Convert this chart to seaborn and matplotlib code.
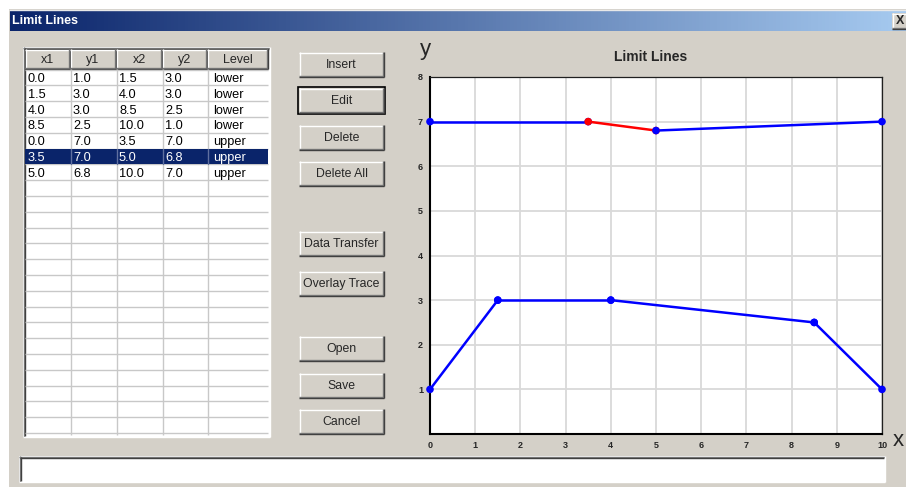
import numpy as np
import pandas as pd
import seaborn as sns
import matplotlib.pyplot as plt
from matplotlib.patches import Rectangle
from matplotlib.colors import LinearSegmentedColormap

# limit line segments, as listed in the table
x1 = [0.0, 1.5, 4.0, 8.5, 0.0, 3.5, 5.0]
y1 = [1.0, 3.0, 3.0, 2.5, 7.0, 7.0, 6.8]
x2 = [1.5, 4.0, 8.5, 10.0, 3.5, 5.0, 10.0]
y2 = [3.0, 3.0, 2.5, 1.0, 7.0, 6.8, 7.0]
level = ["lower", "lower", "lower", "lower", "upper", "upper", "upper"]
selected = 5

columns = ["x1", "y1", "x2", "y2", "Level"]
buttons = ["Insert", "Edit", "Delete", "Delete All", "Data Transfer",
           "Overlay Trace", "Open", "Save", "Cancel"]
xticks = list(range(0, 11))
yticks = list(range(1, 9))

W, H = 906, 487
GREY = "#d4d0c8"
NAVY = "#0a246a"
FONT = "Liberation Sans"

sns.set_style("white")
plt.rcParams["font.family"] = [FONT, "DejaVu Sans"]

fig = plt.figure(figsize=(W / 100, H / 100), dpi=100, facecolor="white")
bg = fig.add_axes([0, 0, 1, 1])
bg.set_axis_off()


def rect(x0, y0, x1_, y1_, **kw):
    bg.add_patch(Rectangle((x0, y0), x1_ - x0, y1_ - y0, **kw))


def hline(x0, x1_, y, c, lw=1):
    bg.plot([x0, x1_], [y, y], color=c, lw=lw, solid_capstyle="butt")


def vline(x, y0, y1_, c, lw=1):
    bg.plot([x, x], [y0, y1_], color=c, lw=lw, solid_capstyle="butt")


def raised(x0, y0, x1_, y1_, default=False):
    rect(x0, y0, x1_, y1_, facecolor=GREY, edgecolor="none")
    hline(x0, x1_, y0 + 0.5, "white")
    vline(x0 + 0.5, y0, y1_, "white")
    hline(x0, x1_, y1_ - 1.5, "#808080")
    vline(x1_ - 1.5, y0, y1_, "#808080")
    hline(x0, x1_, y1_ - 0.5, "#404040")
    vline(x1_ - 0.5, y0, y1_, "#404040")
    if default:
        rect(x0 - 1, y0 - 1, x1_ + 1, y1_ + 1, facecolor="none",
             edgecolor="black", lw=1.2)


def sunken(x0, y0, x1_, y1_, face="white"):
    rect(x0, y0, x1_, y1_, facecolor=face, edgecolor="none")
    hline(x0, x1_, y0 + 0.5, "#808080")
    vline(x0 + 0.5, y0, y1_, "#808080")
    hline(x0 + 1, x1_ - 1, y0 + 1.5, "#404040")
    vline(x0 + 1.5, y0 + 1, y1_ - 1, "#404040")
    hline(x0, x1_, y1_ - 0.5, "white")
    vline(x1_ - 0.5, y0, y1_, "white")


# dialog body and title bar
rect(9, 9, W, H, facecolor=GREY, edgecolor="none")
hline(9, W, 9.5, "#e8e8e8")
cmap = LinearSegmentedColormap.from_list("tb", [NAVY, "#a6caf0"])
bg.imshow(np.linspace(0, 1, 256)[None, :], cmap=cmap, aspect="auto",
          extent=(10, W, 31, 11), zorder=1)
bg.text(12, 21.5, "Limit Lines", color="white", fontsize=9, weight="bold",
        va="center", ha="left", zorder=3)
raised(892, 13, W + 4, 29)
bg.text(900, 21.5, "X", fontsize=9, weight="bold", ha="center", va="center",
        zorder=3)

# table
tx0, ty0, tx1, ty1 = 23, 47, 270, 437
col_x = [25, 70, 116, 162, 207, 268]
head_y0, head_y1 = 49, 69
row_h = 15.8
sunken(tx0, ty0, tx1, ty1)
for i, name in enumerate(columns):
    raised(col_x[i], head_y0, col_x[i + 1], head_y1)
    bg.text((col_x[i] + col_x[i + 1]) / 2, (head_y0 + head_y1) / 2 + 1,
            name, fontsize=9, ha="center", va="center", zorder=3)
n_rows = int((ty1 - 2 - head_y1) // row_h)
for r in range(n_rows + 1):
    y = head_y1 + r * row_h
    hline(col_x[0], col_x[-1], y + 0.5, "#c8c8c8")
for cx in col_x[1:-1]:
    vline(cx + 0.5, head_y1, ty1 - 2, "#c8c8c8")
rows = list(zip(x1, y1, x2, y2, level))
for r, row in enumerate(rows):
    ytop = head_y1 + r * row_h
    txtc = "black"
    if r == selected:
        rect(col_x[0], ytop + 1, col_x[-1], ytop + row_h, facecolor=NAVY,
             edgecolor="none", zorder=2)
        for cx in col_x[1:-1]:
            bg.plot([cx + 0.5, cx + 0.5], [ytop + 1, ytop + row_h],
                    color="#6070a0", lw=1, zorder=2.5)
        txtc = "white"
    for c, val in enumerate(row):
        s = val if isinstance(val, str) else f"{val:.1f}"
        off = 6 if c == 4 else 3
        bg.text(col_x[c] + off, ytop + row_h / 2 + 2, s, fontsize=9.2,
                color=txtc, ha="left", va="center", zorder=3)

# buttons
btn_y = [52, 88, 125, 161, 231, 271, 336, 373, 409]
for label, by in zip(buttons, btn_y):
    raised(299, by, 384, by + 25, default=(label == "Edit"))
    bg.text(341.5, by + 13, label, fontsize=8.8, ha="center", va="center",
            zorder=3)

# status text box
sunken(19, 456, 885, 482)

bg.set_xlim(0, W)
bg.set_ylim(H, 0)

# chart
ax_l, ax_r, ax_t, ax_b = 430, 882, 77, 434
ax = fig.add_axes([ax_l / W, (H - ax_b) / H, (ax_r - ax_l) / W,
                   (ax_b - ax_t) / H])
ax.set_facecolor("white")

seg = pd.DataFrame({"x1": x1, "y1": y1, "x2": x2, "y2": y2, "level": level})
seg["state"] = ["selected" if i == selected else "normal"
                for i in range(len(seg))]
seg["seg"] = range(len(seg))
pts = pd.concat([
    seg[["x1", "y1", "seg", "state"]].rename(columns={"x1": "x", "y1": "y"}),
    seg[["x2", "y2", "seg", "state"]].rename(columns={"x2": "x", "y2": "y"}),
]).sort_values(["seg", "x"])
palette = {"normal": "#0000ff", "selected": "#ff0000"}
sns.lineplot(data=pts, x="x", y="y", hue="state", units="seg",
             estimator=None, sort=False, palette=palette, lw=1.8,
             legend=False, ax=ax, zorder=3)
sns.scatterplot(data=pts, x="x", y="y", hue="state", palette=palette,
                s=30, linewidth=0, legend=False, ax=ax, zorder=4,
                clip_on=False)

ax.set_xlim(0, 10)
ax.set_ylim(0, 8)
ax.set_xticks(xticks)
ax.set_yticks(yticks)
ax.set_xticklabels([str(t) for t in xticks], fontsize=6.5, weight="bold")
ax.set_yticklabels([str(t) for t in yticks], fontsize=6.5, weight="bold")
ax.tick_params(length=0, pad=5)
ax.grid(True, color="#d9d9d9", lw=1.3)
ax.set_axisbelow(True)
for side in ["left", "bottom"]:
    ax.spines[side].set_color("black")
    ax.spines[side].set_linewidth(1.5)
for side in ["top", "right"]:
    ax.spines[side].set_color("#202020")
    ax.spines[side].set_linewidth(0.9)
ax.set_xlabel("")
ax.set_ylabel("")

bg.text(651, 57, "Limit Lines", fontsize=10, weight="bold", ha="center",
        va="center")
bg.text(425, 49, "y", fontsize=16, ha="center", va="center")
bg.text(898, 441, "x", fontsize=16, ha="center", va="center")

fig.savefig("out.png", dpi=100, facecolor=fig.get_facecolor())
